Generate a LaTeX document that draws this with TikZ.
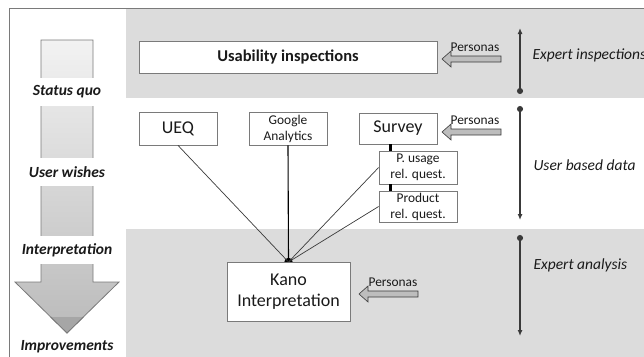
\documentclass[tikz,border=0pt]{standalone}
\usepackage{fontspec}
\setmainfont{Carlito}
\usetikzlibrary{arrows.meta}
\definecolor{band}{HTML}{DCDCDC}
\definecolor{edge}{HTML}{7A7A7A}
\definecolor{dark}{HTML}{3A3A3A}
\definecolor{pgray}{HTML}{BDBDBD}
\definecolor{ink}{HTML}{1A1A1A}
\begin{document}
\begin{tikzpicture}[x=1pt,y=-1pt,text=ink,
  box/.style={draw=edge,fill=white,line width=0.8pt,inner sep=1pt,align=center},
  big/.style={font=\fontsize{18}{21}\selectfont},
  small/.style={font=\fontsize{13.4}{16}\selectfont},
  stage/.style={fill=white,inner sep=1pt,minimum height=28pt,font=\fontsize{15.5}{18}\selectfont\bfseries\itshape},
  phase/.style={anchor=west,font=\fontsize{15.5}{18}\selectfont\itshape},
  conn/.style={draw=dark,line width=0.7pt},
  bar/.style={draw=black,line width=3.5pt},
  span/.style={draw=dark,line width=1.3pt,{Circle[length=6pt]}-{Latex[length=6pt,width=5pt]}},
  pers/.pic={\draw[fill=pgray,draw=dark,line width=0.6pt]
    (0,0)--(9,-8)--(9,-3)--(59,-3)--(59,3)--(9,3)--(9,8)--cycle;}]
\useasboundingbox (0,0) rectangle (644,356);
\clip (0,0) rectangle (644,356);

% shaded bands and outer frame
\fill[band] (126,9) rectangle (650,98);
\fill[band] (126,229) rectangle (650,360);
\draw[edge,line width=1pt] (9,8) rectangle (660,370);

% process arrow on the left, cut by the stage labels
\shade[top color=black!5,bottom color=black!27,draw=edge,line width=0.8pt]
  (41,40)--(93,40)--(93,282)--(119,282)--(67,333)--(15,282)--(41,282)--cycle;
\fill[black!35] (50.7,317)--(83.3,317)--(67,333)--cycle;
\draw[edge,line width=0.8pt] (50.7,317)--(67,333)--(83.3,317);
\node[stage] (sq) at (67,91.5) {Status quo};
\node[stage] (uw) at (67,172) {User wishes};
\node[stage] (in) at (67,250) {Interpretation};
\node[stage,fill=none] (im) at (67,347) {Improvements};

% expert inspections
\node[box,minimum width=298pt,minimum height=32pt,font=\fontsize{16.5}{20}\selectfont\bfseries] (ui) at (288,57) {Usability inspections};
\node[small] (p1) at (475,47) {Personas};
\pic at (442,59) {pers};

% user based data
\node[box,big,minimum width=78pt,minimum height=33pt] (ueq) at (178,128.5) {UEQ};
\node[box,small,minimum width=78pt,minimum height=33pt] (ga) at (288,128.5) {Google\\Analytics};
\node[box,big,minimum width=78pt,minimum height=31pt] (sv) at (398,128.5) {Survey};
\node[box,small,minimum width=78pt,minimum height=33pt] (pu) at (418,167.5) {P. usage\\rel. quest.};
\node[box,small,minimum width=78pt,minimum height=31pt] (pr) at (418,206.5) {Product\\rel. quest.};
\node[small] (p2) at (475,120) {Personas};
\pic at (442,132) {pers};
\draw[bar] ([xshift=12pt]pu.north west) -- ([xshift=12pt]pu.north west |- sv.south);
\draw[bar] ([xshift=12pt]pr.north west) -- ([xshift=12pt]pr.north west |- pu.south);

% expert analysis
\coordinate (j) at (288.5,262);
\fill[black] (j) circle (4.2pt);
\draw[conn] (ueq.south) -- (j);
\draw[conn,draw=black,line width=1.1pt] (ga.south) -- (j);
\draw[conn] (pu.west) -- (j);
\draw[conn] (pr.west) -- (j);
\node[box,big,minimum width=123pt,minimum height=59pt] (kano) at (288.5,291.5) {Kano\\Interpretation};
\node[small] (p3) at (393,282) {Personas};
\pic at (359,294) {pers};

% phase spans on the right
\coordinate (a0) at (520,94);   \coordinate (a1) at (520,28);
\coordinate (b0) at (520,106);  \coordinate (b1) at (520,220);
\coordinate (c0) at (520,235);  \coordinate (c1) at (520,336);
\draw[span] (a0) -- (a1);
\draw[span] (b0) -- (b1);
\draw[span] (c0) -- (c1);
\node[phase] (ei) at (529,55) {Expert inspections};
\node[phase] (ub) at (530,165) {User based data};
\node[phase] (ea) at (530,265) {Expert analysis};
\end{tikzpicture}
\end{document}
